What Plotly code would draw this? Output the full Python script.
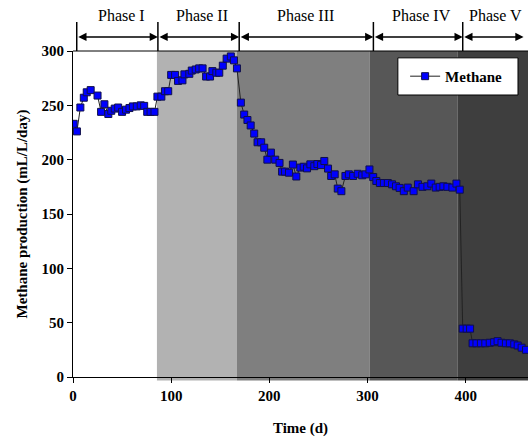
import plotly.graph_objects as go

# ---- data ----
time_d = [0.7, 4, 7.5, 11, 14, 18, 25, 28.6, 32, 36, 39, 42.5, 46, 50, 54, 57.5, 61, 65, 69, 72.5, 75.6, 79, 83,
          86, 90, 93.7, 97, 100, 104, 107, 111.5, 113.5, 118.5, 121, 125, 128.5, 132, 135.6, 139.6, 142, 146, 149,
          152.6, 156.5, 160.8, 164, 167,
          171, 174.4, 177.7, 181, 184.6, 188, 191.7, 194.8, 198, 201.6, 206, 210.4, 213, 216, 220, 224, 227.5,
          231.6, 235, 238.4, 241.8, 245.8, 249, 252.7, 256, 259.8, 263, 266.6, 269.7, 273.4, 277.5, 281, 285.4,
          290, 294.6, 298, 302,
          305.8, 309, 312.6, 316.7, 320.7, 325, 329, 332.7, 337, 341, 347, 351.4, 356, 361, 365, 369.5, 373.5,
          377.3, 381.4, 386.5, 390.6, 394,
          397, 401, 404.5, 407, 411, 415.5, 420, 424.5, 429, 432.5, 436.5, 441, 445, 449.5, 453, 457, 461.5]
methane = [233, 226, 248, 257, 262, 264, 259, 244, 251, 242, 245, 247, 248, 244, 246, 247.5, 249, 249, 250, 249.5, 244, 244, 244,
           258, 258, 263, 263, 278, 278, 272.5, 273, 278.5, 279, 282, 283, 284, 284, 276.5, 276.5, 281.5, 280, 280,
           286.5, 293, 295, 291.4, 284,
           252.5, 241.5, 236.5, 231.5, 224, 216, 216, 211, 200, 206.5, 200, 197, 189, 189, 188, 195.5, 184.5,
           192.7, 193.5, 192, 195.7, 194, 196, 195, 198.8, 191.8, 185, 186.5, 173.4, 171, 185, 186.5, 185,
           187, 185.6, 186.5, 191,
           184, 180.4, 178.5, 178.5, 178.5, 177.3, 175.5, 174, 171, 174.3, 171, 177.3, 175, 175.5, 178, 174.3, 175,
           175.5, 175, 174.3, 178, 172.4,
           44.5, 44.5, 44.5, 31, 31, 31, 31, 31.5, 32, 33, 31.5, 31, 31, 30, 29, 27, 25]

phase_names = ["Phase I", "Phase II", "Phase III", "Phase IV", "Phase V"]
phase_bounds = [0, 85.5, 167, 302, 392, 463.5]          # shaded regions
phase_marks = [3.8, 86.5, 169.3, 306, 397, 459]         # arrow bracket positions
phase_colors = ["#ffffff", "#b2b2b2", "#7f7f7f", "#575757", "#3e3e3e"]

x_ticks = [0, 100, 200, 300, 400]
y_ticks = [0, 50, 100, 150, 200, 250, 300]

FONT = "Liberation Serif"

fig = go.Figure()

fig.add_trace(go.Scatter(
    x=time_d, y=methane, mode="lines+markers", name="Methane",
    line=dict(color="#222222", width=1),
    marker=dict(symbol="square", size=7, color="#0000ff", line=dict(color="#10104a", width=1)),
))

shapes = []
for i in range(5):
    shapes.append(dict(type="rect", xref="x", yref="paper",
                       x0=phase_bounds[i], x1=phase_bounds[i + 1], y0=-0.011, y1=1,
                       fillcolor=phase_colors[i], line=dict(width=0), layer="below"))
# top frame line
shapes.append(dict(type="line", xref="paper", yref="paper", x0=0, x1=1, y0=1, y1=1,
                   line=dict(color="black", width=1)))
# vertical phase markers above the plot
for xm in phase_marks[:-1]:
    shapes.append(dict(type="line", xref="x", yref="paper", x0=xm, x1=xm, y0=1.0, y1=1.089,
                       line=dict(color="black", width=1.5)))
# legend frame
shapes.append(dict(type="rect", xref="paper", yref="paper", x0=0.714, x1=0.978, y0=0.865, y1=0.979,
                   fillcolor="white", line=dict(color="black", width=1), layer="above"))

annotations = []
for i in range(5):
    a, b = phase_marks[i], phase_marks[i + 1]
    annotations.append(dict(x=b, y=1.043, xref="x", yref="paper", ax=a, ay=0,
                            axref="x", ayref="pixel", text="", showarrow=True,
                            arrowhead=2, arrowside="end+start", arrowsize=1.1, arrowwidth=1.5,
                            arrowcolor="black", standoff=0, startstandoff=0))
label_x = [49.8, 131.5, 236.5, 355.5, 430.5]
for name, lx in zip(phase_names, label_x):
    annotations.append(dict(x=lx, y=1.11, xref="x", yref="paper", text=name, showarrow=False,
                            font=dict(family=FONT, size=16, color="black"),
                            xanchor="center", yanchor="middle"))

fig.update_layout(
    width=528, height=438,
    margin=dict(l=73, r=0, t=51, b=61),
    paper_bgcolor="white", plot_bgcolor="white",
    showlegend=True,
    legend=dict(x=0.842, y=0.922, xanchor="center", yanchor="middle",
                bgcolor="rgba(0,0,0,0)", borderwidth=0,
                font=dict(family=FONT, size=15, color="black", weight="bold")),
    shapes=shapes, annotations=annotations,
    xaxis=dict(range=[0, 463.5], tickvals=x_ticks, showgrid=False, zeroline=False,
               showline=True, linecolor="black", linewidth=1,
               ticks="outside", ticklen=5, tickcolor="black",
               tickfont=dict(family=FONT, size=15, color="black", weight="bold"),
               title=dict(text="Time (d)", standoff=19,
                          font=dict(family=FONT, size=15, color="black", weight="bold"))),
    yaxis=dict(range=[0, 300], tickvals=y_ticks, showgrid=False, zeroline=False,
               showline=True, linecolor="black", linewidth=1,
               ticks="outside", ticklen=5, tickcolor="black",
               tickfont=dict(family=FONT, size=15, color="black", weight="bold"),
               title=dict(text="Methane production (mL/L/day)", standoff=10,
                          font=dict(family=FONT, size=15, color="black", weight="bold"))),
)

fig.write_html("out.html", config={"displayModeBar": False},
               post_script="document.body.style.margin='0';")
